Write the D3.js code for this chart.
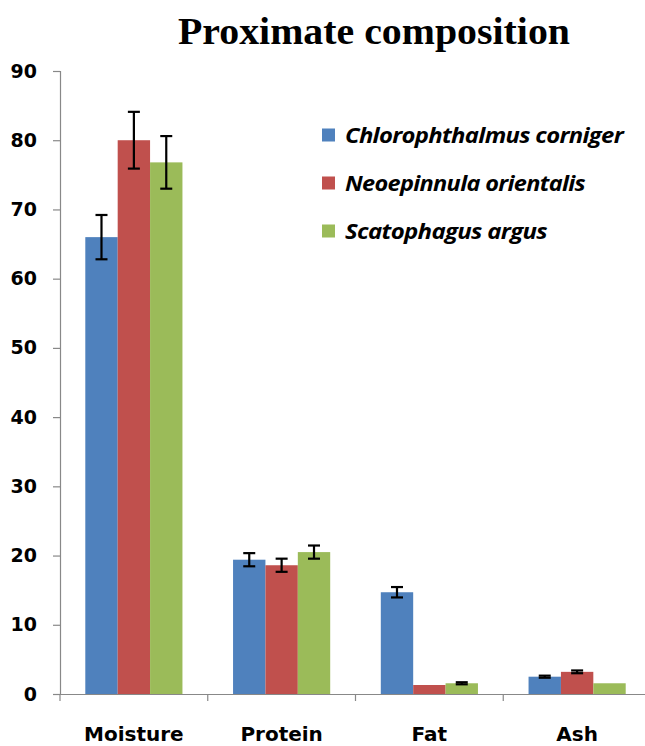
<!DOCTYPE html>
<html>
<head>
<meta charset="utf-8">
<script src="https://cdn.jsdelivr.net/npm/d3@7/dist/d3.min.js"></script>
<style>
  html, body { margin: 0; padding: 0; background: #fff; }
  svg { display: block; }
</style>
</head>
<body>
<svg id="chart" width="645" height="746"></svg>
<script>
const categories = ["Moisture", "Protein", "Fat", "Ash"];
const seriesNames = ["Chlorophthalmus corniger", "Neoepinnula orientalis", "Scatophagus argus"];
const seriesColors = ["#4F81BD", "#C0504D", "#9BBB59"];
const chlorophthalmus = [66.0, 19.4, 14.7, 2.5];
const neoepinnula = [80.0, 18.6, 1.3, 3.2];
const scatophagus = [76.8, 20.5, 1.55, 1.55];
const chlorophthalmusErr = [3.2, 0.95, 0.75, 0.15];
const neoepinnulaErr = [4.1, 0.95, 0, 0.2];
const scatophagusErr = [3.8, 0.95, 0.15, 0];
const yTicks = [0, 10, 20, 30, 40, 50, 60, 70, 80, 90];
const titleText = "Proximate composition";

const values = [chlorophthalmus, neoepinnula, scatophagus];
const errors = [chlorophthalmusErr, neoepinnulaErr, scatophagusErr];

const svg = d3.select("#chart");

const x0 = d3.scaleBand().domain(categories).range([60, 651]).paddingInner(0).paddingOuter(0);
const x1 = d3.scaleBand().domain(seriesNames).range([25.3, x0.bandwidth() - 25.3]).padding(0);
const y = d3.scaleLinear().domain([0, 90]).range([694, 71]);

// Title
const title = svg.append("text")
  .attr("x", 374).attr("y", 44)
  .attr("text-anchor", "middle")
  .attr("font-family", "'Liberation Serif', 'Times New Roman', serif")
  .attr("font-weight", "bold")
  .attr("font-size", 37)
  .attr("fill", "#000")
  .text(titleText);
const tl = title.node().getComputedTextLength();
if (Math.abs(tl - 392) > 4) title.attr("textLength", 392).attr("lengthAdjust", "spacingAndGlyphs");

// Y axis
const yAxis = d3.axisLeft(y).tickValues(yTicks).tickSize(7).tickPadding(16);
const yg = svg.append("g").attr("transform", "translate(60,0)").call(yAxis);
yg.select(".domain").attr("stroke", "#888").attr("stroke-width", 1.2);
yg.selectAll(".tick line").attr("stroke", "#888").attr("stroke-width", 1.2);
yg.selectAll(".tick text")
  .attr("font-family", "'DejaVu Sans', sans-serif")
  .attr("font-weight", "bold")
  .attr("font-size", 19)
  .attr("fill", "#000");

// X axis
const xAxis = d3.axisBottom(x0).tickSize(0).tickPadding(0).tickFormat(() => "");
const xg = svg.append("g").attr("transform", `translate(0,${y(0)})`).call(xAxis);
xg.select(".domain").attr("stroke", "#888").attr("stroke-width", 1.2);
const boundaries = categories.map(c => x0(c)).concat([x0(categories[categories.length - 1]) + x0.bandwidth()]);
xg.selectAll("line.bound").data(boundaries).enter().append("line")
  .attr("class", "bound")
  .attr("x1", d => d).attr("x2", d => d)
  .attr("y1", 0).attr("y2", 7)
  .attr("stroke", "#888").attr("stroke-width", 1.2);

// Category labels
svg.append("g").selectAll("text").data(categories).enter().append("text")
  .attr("x", d => x0(d) + x0.bandwidth() / 2)
  .attr("y", 741)
  .attr("text-anchor", "middle")
  .attr("font-family", "'DejaVu Sans', sans-serif")
  .attr("font-weight", "bold")
  .attr("font-size", 20)
  .attr("fill", "#000")
  .text(d => d);

// Bars
const barData = [];
categories.forEach((c, ci) => {
  seriesNames.forEach((s, si) => {
    barData.push({ c, s, si, v: values[si][ci], e: errors[si][ci] });
  });
});

svg.append("g").selectAll("rect").data(barData).enter().append("rect")
  .attr("x", d => x0(d.c) + x1(d.s))
  .attr("y", d => y(d.v))
  .attr("width", x1.bandwidth())
  .attr("height", d => y(0) - y(d.v))
  .attr("fill", d => seriesColors[d.si]);

// Error bars
const eg = svg.append("g").attr("stroke", "#000").attr("stroke-width", 2.2);
barData.filter(d => d.e > 0).forEach(d => {
  const cx = x0(d.c) + x1(d.s) + x1.bandwidth() / 2;
  const capW = 6;
  eg.append("line").attr("x1", cx).attr("x2", cx).attr("y1", y(d.v + d.e)).attr("y2", y(d.v - d.e));
  eg.append("line").attr("x1", cx - capW).attr("x2", cx + capW).attr("y1", y(d.v + d.e)).attr("y2", y(d.v + d.e));
  eg.append("line").attr("x1", cx - capW).attr("x2", cx + capW).attr("y1", y(d.v - d.e)).attr("y2", y(d.v - d.e));
});

// Legend
const legendWidths = [278, 240, 202];
const legend = svg.append("g");
seriesNames.forEach((s, i) => {
  const cy = 135 + i * 48;
  legend.append("rect")
    .attr("x", 322).attr("y", cy - 6.5).attr("width", 13).attr("height", 13)
    .attr("fill", seriesColors[i]);
  const t = legend.append("text")
    .attr("x", 345).attr("y", cy + 8)
    .attr("font-family", "'Open Sans', Lato, sans-serif")
    .attr("font-weight", "bold")
    .attr("font-style", "italic")
    .attr("font-size", 21)
    .attr("letter-spacing", -0.6)
    .attr("fill", "#000")
    .text(s);
  const w = t.node().getComputedTextLength();
  if (Math.abs(w - legendWidths[i]) > 3) t.attr("textLength", legendWidths[i]).attr("lengthAdjust", "spacingAndGlyphs");
});
</script>
</body>
</html>
